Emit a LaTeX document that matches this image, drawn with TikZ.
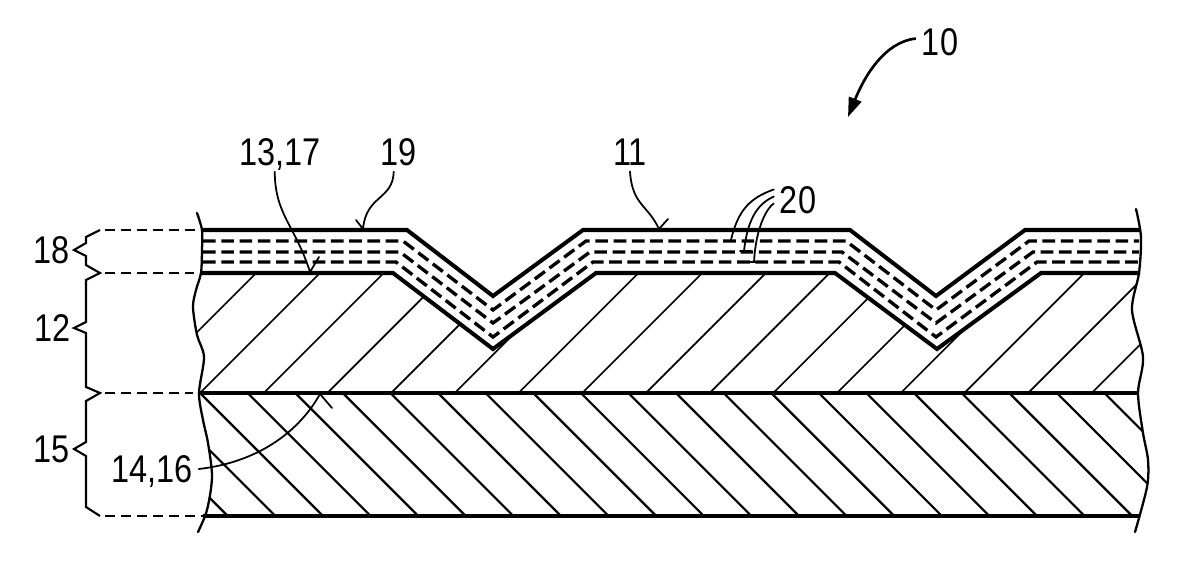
\documentclass[tikz,border=0pt]{standalone}
\usepackage{fontspec}
\setmainfont[FakeStretch=0.84]{Liberation Sans}
\usepackage{xcolor}
\usepackage{tikz}
\usetikzlibrary{calc,arrows.meta}
\tikzset{
  layer/.style={draw=black, line width=2.3pt, line join=miter},
  film/.style={draw=black, line width=1.9pt, dash pattern=on 7.2pt off 3.2pt},
  hatcha/.style={draw=black, line width=0.95pt},
  hatchb/.style={draw=black, line width=1.25pt},
  edge/.style={draw=black, line width=1.3pt, line cap=round},
  lead/.style={draw=black, line width=1pt, line cap=round},
  guide/.style={draw=black, line width=1.1pt, dash pattern=on 5.7pt off 3.4pt},
  brace/.style={draw=black, line width=1.2pt, line join=miter},
  lab/.style={inner sep=0pt, outer sep=3.5pt, text depth=0pt, font=\fontsize{22}{24}\selectfont},
}
\begin{document}
\begin{tikzpicture}[x=0.02cm,y=-0.02cm]
  \useasboundingbox (0,0) rectangle (1200,581);

  % labels
  \node[lab] (lab10) at (940,42) {10};
  \node[lab] (lab1317) at (280,152) {13,17};
  \node[lab] (lab19) at (399,152) {19};
  \node[lab] (lab11) at (630,152) {11};
  \node[lab] (lab20) at (798,200) {20};
  \node[lab] (lab18) at (52,250) {18};
  \node[lab] (lab12) at (53,328) {12};
  \node[lab] (lab15) at (52,449) {15};
  \node[lab] (lab1416) at (152,469) {14,16};

  % leader ends
  \coordinate (c10) at (848,117);
  \coordinate (c1317) at (310,272);
  \coordinate (c19) at (363,229);
  \coordinate (c11) at (659,229);
  \coordinate (c20a) at (731,240);
  \coordinate (c20b) at (744,251);
  \coordinate (c20c) at (754,262);
  \coordinate (c1416) at (320,394);

  % hatching of layer 12
  \begin{scope}
    \clip plot[smooth] coordinates {(201,273) (196,290) (193,307) (197,335) (204,357) (199,393)}
      -- (1138,393)
      -- plot[smooth] coordinates {(1138,393) (1143,357) (1132,310) (1139,273)}
      -- (1041,273) -- (937,349) -- (835,273) -- (596,273) -- (493,349) -- (393,273) -- cycle;
    \foreach \k in {-1,...,14}
      \draw[hatcha] ({200+63.7*\k},393) -- ++(125,-125);
  \end{scope}

  % hatching of layer 15
  \begin{scope}
    \clip plot[smooth] coordinates {(199,393) (203,420) (208,443) (212,477) (205,516)}
      -- (1140,516)
      -- plot[smooth] coordinates {(1140,516) (1147,487) (1148,460) (1143,433) (1138,393)} -- cycle;
    \foreach \k in {-2,...,19}
      \draw[hatchb] ({200+47.6*\k},393) -- ++(125,125);
  \end{scope}

  % film 18
  \draw[layer] (202,230) -- (407,230) -- (493,296) -- (583,230) -- (850,230) -- (936,296) -- (1025,230) -- (1140,230);
  \draw[film] (203,241) -- (403,241) -- (493,310) -- (586,241) -- (846,241) -- (936,310) -- (1029,241) -- (1139,241);
  \draw[film] (203,252) -- (400,252) -- (493,323) -- (590,252) -- (842,252) -- (936,323) -- (1033,252) -- (1139,252);
  \draw[film] (203,262) -- (396,262) -- (493,337) -- (593,262) -- (839,262) -- (936,337) -- (1037,262) -- (1139,262);
  \draw[layer] (201,273) -- (393,273) -- (493,349) -- (596,273) -- (835,273) -- (937,349) -- (1041,273) -- (1140,273);
  \draw[layer] (199,393) -- (1138,393);
  \draw[layer] (203,516) -- (1140,516);

  % broken edges
  \draw[edge] plot[smooth] coordinates {(197,213) (202,230) (202,250) (201,273) (196,290) (193,307) (197,335) (204,357) (199,393) (203,420) (208,443) (212,477) (207,510) (198,532)};
  \draw[edge] plot[smooth] coordinates {(1136,209) (1141,237) (1139,273) (1132,310) (1143,357) (1138,393) (1143,433) (1148,460) (1147,487) (1135,532)};

  % braces
  \draw[brace] (100,230) -- (86,237) -- (86,243) -- (74,250) -- (86,256) -- (86,265) -- (100,273)
    -- (86,280) -- (86,322) -- (74,328) -- (86,333) -- (86,387) -- (100,393)
    -- (86,401) -- (86,442) -- (74,449) -- (86,456) -- (86,507) -- (100,516);
  \foreach \y/\xe in {230/200,273/194,393/193,516/203}
    \draw[guide] (105,\y) -- (\xe,\y);

  % leaders
  \draw[lead] ([xshift=-3pt]lab1317.south) .. controls (275,215) and (295,225) .. (c1317) -- ++(9,-15);
  \draw[lead] ([xshift=-3pt]lab19.south) .. controls (393,200) and (366,195) .. (c19) -- ++(-7,-9);
  \draw[lead] (lab11.south) .. controls (632,205) and (648,205) .. (c11) -- ++(9,-10);
  \draw[lead] ([yshift=6pt]lab20.west) .. controls (750,198) and (738,210) .. (c20a);
  \draw[lead] ([yshift=2pt]lab20.west) .. controls (760,203) and (748,215) .. (c20b) ++(-4,0) -- ++(11,0);
  \draw[lead] ([yshift=-2pt]lab20.west) .. controls (768,207) and (756,225) .. (c20c) ++(-9,0) -- ++(11,0);
  \draw[lead] (lab1416.east) .. controls (260,462) and (300,430) .. (c1416) -- ++(12,14);
  \draw[-{Triangle[length=11pt,width=7.5pt]},line width=1.5pt] ([yshift=2pt]lab10.west) .. controls (885,42) and (865,75) .. (c10);
\end{tikzpicture}
\end{document}
